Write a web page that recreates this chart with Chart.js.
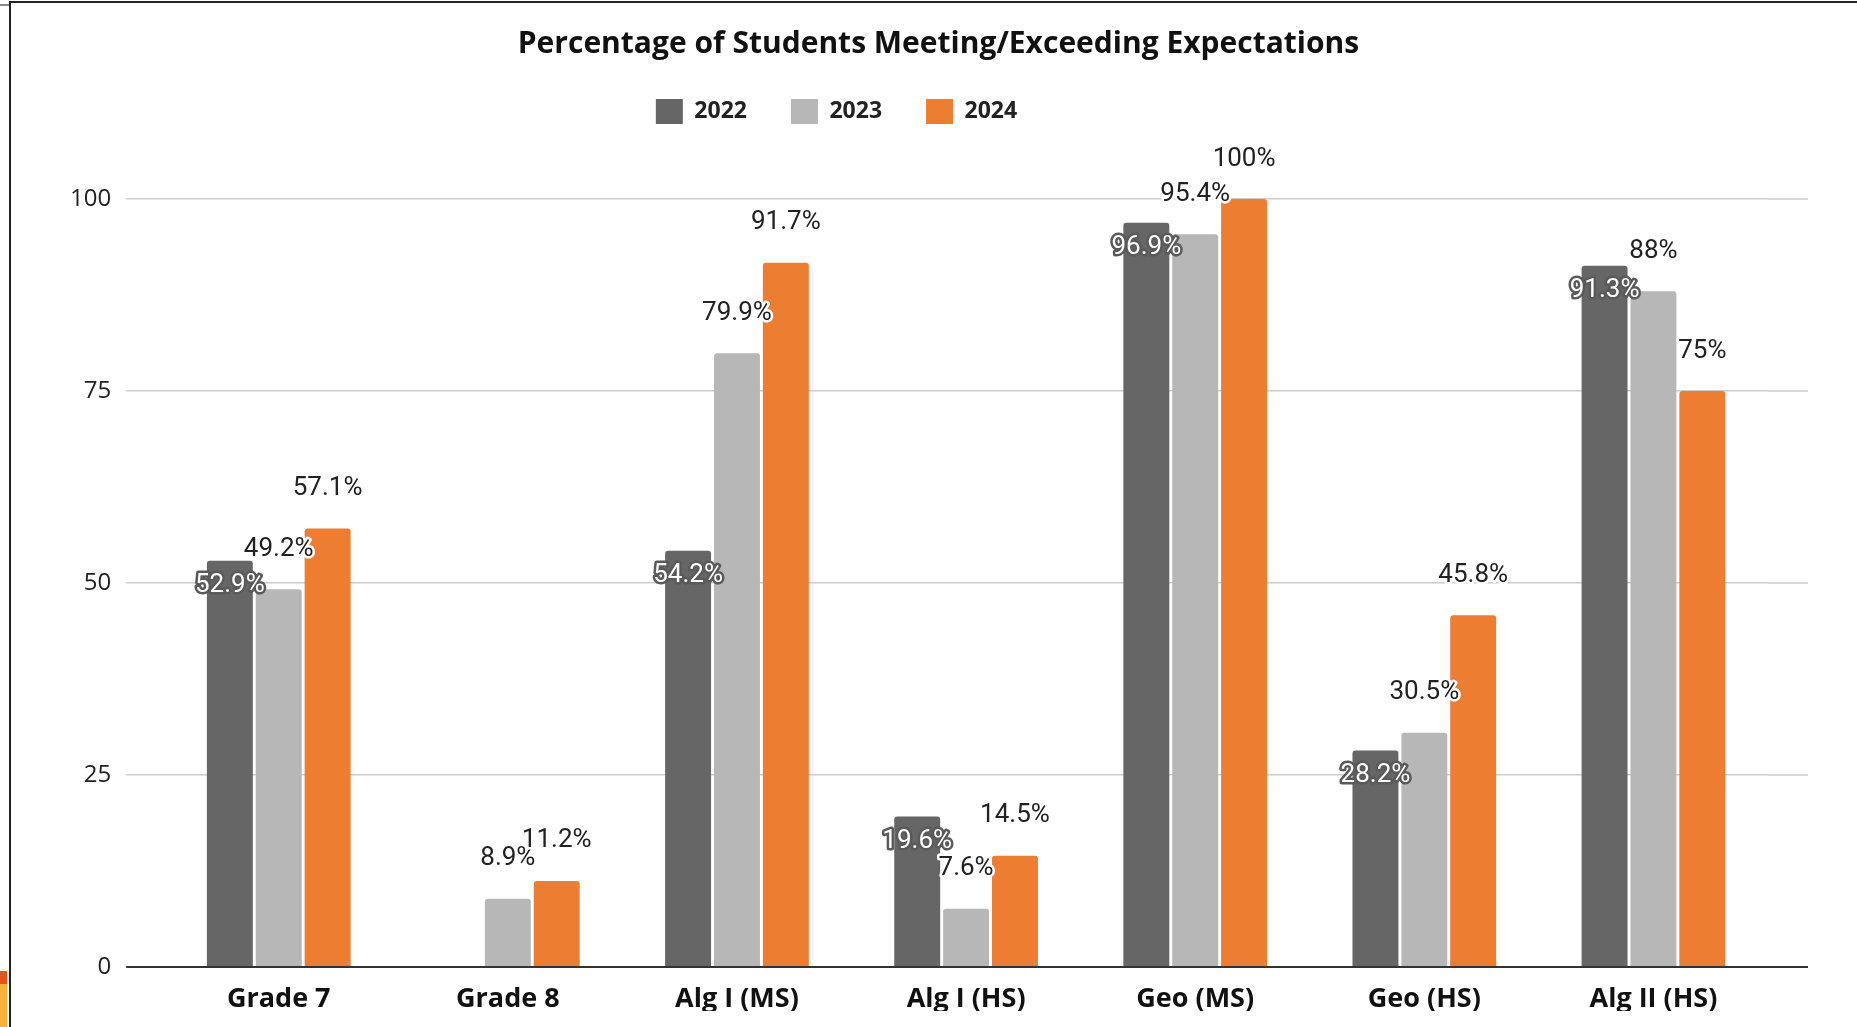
<!DOCTYPE html>
<html lang="en">
<head>
    <meta charset="UTF-8">
    <title>Percentage of Students Meeting/Exceeding Expectations</title>
    <script src="https://cdn.jsdelivr.net/npm/chart.js@4.4.1/dist/chart.umd.min.js"></script>
    <style>
        body { margin: 0; background: #fff; overflow: hidden; }
        #wrap { position: relative; width: 1857px; height: 1027px; }
        #scores { position: absolute; left: 0; top: 0; }
        .frame-top { position: absolute; left: 9px; top: 1px; width: 1848px; height: 2px; background: #222; }
        .frame-left { position: absolute; left: 9px; top: 1px; width: 2px; height: 1026px; background: #222; }
        .stub { position: absolute; left: 0; top: 4px; width: 9px; height: 2px; background: #888; }
        .tab-red { position: absolute; left: 0; top: 971px; width: 7px; height: 13px; background: #e8501e; }
        .tab-yellow { position: absolute; left: 0; top: 984px; width: 7px; height: 43px; background: #fbb03b; }
    </style>
</head>
<body>
<div id="wrap">
    <canvas id="scores" width="1857" height="1027"></canvas>
    <div class="frame-top"></div>
    <div class="frame-left"></div>
    <div class="stub"></div>
    <div class="tab-red"></div>
    <div class="tab-yellow"></div>
</div>
<script>
    var categories = ['Grade 7', 'Grade 8', 'Alg I (MS)', 'Alg I (HS)', 'Geo (MS)', 'Geo (HS)', 'Alg II (HS)'];
    var years = ['2022', '2023', '2024'];
    var values2022 = [52.9, null, 54.2, 19.6, 96.9, 28.2, 91.3];
    var values2023 = [49.2, 8.9, 79.9, 7.6, 95.4, 30.5, 88];
    var values2024 = [57.1, 11.2, 91.7, 14.5, 100, 45.8, 75];
    var yTicks = [0, 25, 50, 75, 100];

    var colors = ['#666666', '#b7b7b7', '#ed7d31'];

    // extra room under the legend; title and legend are not centred in the original
    var headerTweak = {
        id: 'headerTweak',
        beforeInit: function(chart) {
            var fit = chart.legend.fit;
            chart.legend.fit = function() {
                fit.bind(chart.legend)();
                this.height += 61;
            };
        },
        afterLayout: function(chart) {
            chart.legend.left -= 75;
            chart.legend.right -= 75;
            chart.legend.top -= 4;
            chart.legend.bottom -= 4;
            chart.titleBlock.left += 27;
            chart.titleBlock.right += 27;
            chart.titleBlock.top += 3;
            chart.titleBlock.bottom += 3;
        }
    };

    // gridlines run a bit past the last group on the right
    var extendGrid = {
        id: 'extendGrid',
        beforeDatasetsDraw: function(chart) {
            var ctx = chart.ctx, area = chart.chartArea, y = chart.scales.y;
            ctx.save();
            y.ticks.forEach(function(t) {
                var py = y.getPixelForValue(t.value);
                ctx.strokeStyle = t.value === 0 ? '#333333' : '#cccccc';
                ctx.lineWidth = t.value === 0 ? 2 : 1.5;
                ctx.beginPath();
                ctx.moveTo(area.right, py);
                ctx.lineTo(area.right + 40, py);
                ctx.stroke();
            });
            ctx.restore();
        }
    };

    var valueLabels = {
        id: 'valueLabels',
        afterDatasetsDraw: function(chart) {
            var ctx = chart.ctx;
            ctx.save();
            ctx.font = '26px Roboto';
            ctx.textAlign = 'center';
            ctx.textBaseline = 'middle';
            ctx.lineJoin = 'round';
            chart.data.datasets.forEach(function(ds, i) {
                var meta = chart.getDatasetMeta(i);
                meta.data.forEach(function(bar, j) {
                    var v = ds.data[j];
                    if (v === null) return;
                    var txt = v + '%';
                    var py;
                    if (i === 0) {
                        py = bar.y + 25;
                        ctx.strokeStyle = '#5a5a5a';
                        ctx.fillStyle = '#ffffff';
                    } else {
                        py = bar.y - 40;
                        ctx.strokeStyle = '#ffffff';
                        ctx.fillStyle = '#222222';
                    }
                    ctx.lineWidth = 5;
                    ctx.strokeText(txt, bar.x, py);
                    ctx.fillText(txt, bar.x, py);
                });
            });
            ctx.restore();
        }
    };

    var series = [values2022, values2023, values2024];
    var datasets = years.map(function(yr, i) {
        return {
            label: yr,
            data: series[i],
            backgroundColor: colors[i],
            borderRadius: { topLeft: 3, topRight: 3 },
            borderSkipped: 'bottom',
            categoryPercentage: 0.64,
            barPercentage: 0.94
        };
    });

    var ctx = document.getElementById('scores').getContext('2d');
    var config = {
        type: 'bar',
        data: { labels: categories, datasets: datasets },
        options: {
            responsive: false,
            animation: false,
            devicePixelRatio: 1,
            layout: { padding: { left: 55, right: 89, top: 0, bottom: 16 } },
            plugins: {
                title: {
                    display: true,
                    text: 'Percentage of Students Meeting/Exceeding Expectations',
                    color: '#111111',
                    font: { family: 'Open Sans', size: 30, weight: 'bold' },
                    padding: { top: 23, bottom: 0 }
                },
                legend: {
                    position: 'top',
                    labels: {
                        boxWidth: 27,
                        boxHeight: 25,
                        padding: 44,
                        color: '#222222',
                        font: { family: 'Open Sans', size: 23, weight: 'bold' }
                    }
                },
                tooltip: { enabled: false }
            },
            scales: {
                x: {
                    afterFit: function(scale) { scale.height = 44; },
                    grid: { display: false, drawTicks: false },
                    border: { display: false },
                    ticks: {
                        color: '#111111',
                        padding: 16,
                        font: { family: 'Open Sans', size: 27, weight: 'bold' }
                    }
                },
                y: {
                    min: 0,
                    max: 100,
                    afterBuildTicks: function(scale) {
                        scale.ticks = yTicks.map(function(v) { return { value: v }; });
                    },
                    border: { display: false },
                    grid: {
                        color: function(c) { return c.tick && c.tick.value === 0 ? '#333333' : '#cccccc'; },
                        lineWidth: function(c) { return c.tick && c.tick.value === 0 ? 2 : 1.5; },
                        drawTicks: true,
                        tickLength: 38
                    },
                    ticks: {
                        color: '#222222',
                        padding: 15,
                        font: { family: 'Open Sans', size: 24 }
                    }
                }
            }
        },
        plugins: [headerTweak, extendGrid, valueLabels]
    };
    window.scoreChart = new Chart(ctx, config);
</script>
</body>
</html>
